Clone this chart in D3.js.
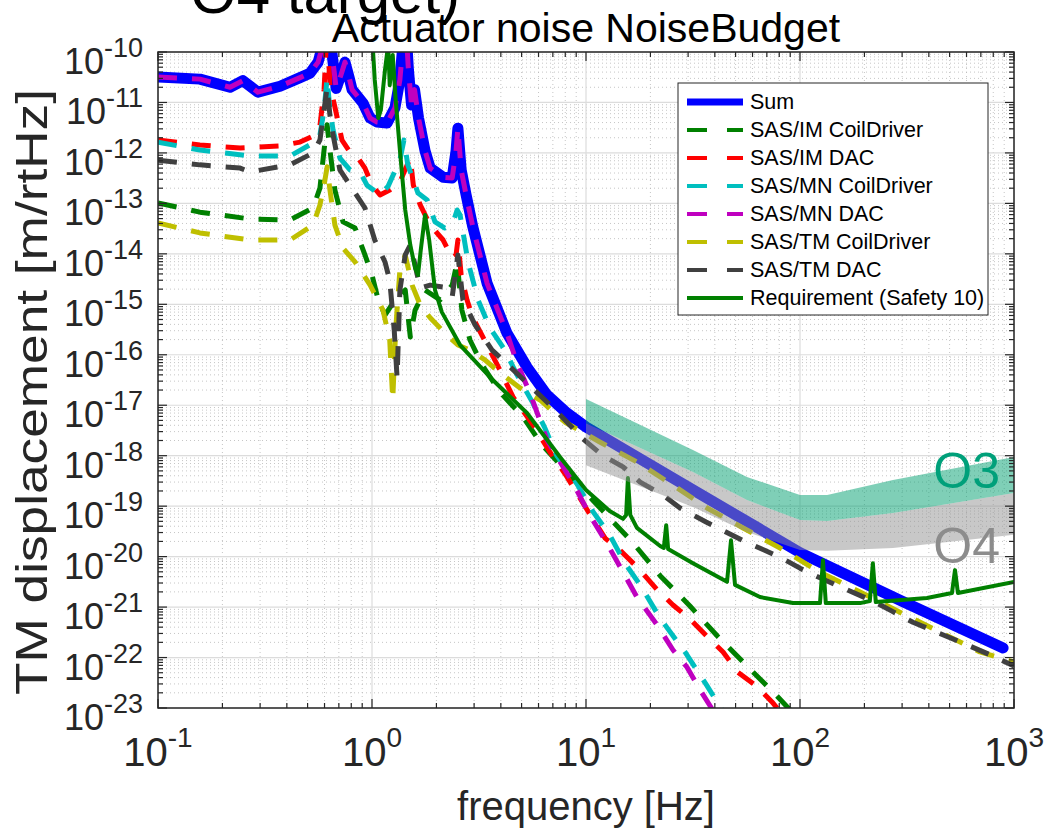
<!DOCTYPE html>
<html>
<head>
<meta charset="utf-8">
<script src="https://cdn.jsdelivr.net/npm/d3@7"></script>
<style>
  body { margin: 0; background: #fff; }
  svg { display: block; font-family: "Liberation Sans", Arial, Helvetica, sans-serif; }
</style>
</head>
<body>
<div id="chart"></div>
<script>
// ---- data (frequency in Hz, displacement in m/rtHz) ----
const freqSum = [0.1, 0.157, 0.217, 0.249, 0.293, 0.372, 0.461, 0.513, 0.56, 0.59, 0.617, 0.643, 0.68, 0.716, 0.748, 0.782, 0.807, 0.908, 0.98, 1.055, 1.175, 1.28, 1.35, 1.43, 1.48, 1.53, 1.58, 1.65, 1.77, 1.87, 2.15, 2.37, 2.47, 2.52, 2.61, 2.75, 2.96, 3.45, 4.27, 5.3, 6.57, 8.15, 10, 30, 100, 300, 889];
const valSum = [3.2e-11, 2.9e-11, 2.0e-11, 2.7e-11, 1.6e-11, 2.1e-11, 3.1e-11, 3.8e-11, 6.3e-11, 1.4e-10, 5e-10, 1.4e-10, 1.9e-11, 3.5e-11, 6.3e-11, 3.1e-11, 1.8e-11, 9.7e-12, 4.9e-12, 4.1e-12, 3.9e-12, 7.8e-12, 2.8e-11, 5e-10, 4.4e-11, 8.9e-12, 1.8e-11, 4.9e-12, 1.1e-12, 5.0e-13, 3.3e-13, 3.2e-13, 1.1e-12, 3.1e-12, 4.6e-13, 1.5e-13, 3.4e-14, 2.6e-15, 2.7e-16, 5.7e-17, 1.6e-17, 7.0e-18, 3.7e-18, 2.4e-19, 1.2e-20, 1.3e-21, 1.55e-22];

const freqImCoil = [0.1, 0.157, 0.269, 0.414, 0.53, 0.571, 0.597, 0.617, 0.636, 0.671, 0.732, 0.833, 0.927, 1.0, 1.07, 1.15, 1.28, 1.43, 1.51, 1.59, 1.77, 2.08, 2.37, 2.5, 2.63, 2.87, 3.27, 3.96, 5.08, 6.23, 10, 16.6, 22.2, 30.6, 41, 56.5, 76.4, 90];
const valImCoil = [1.02e-13, 6.7e-14, 4.9e-14, 4.7e-14, 8.1e-14, 2.0e-13, 1.14e-12, 3.6e-12, 1.14e-12, 1.84e-13, 4.3e-14, 3.25e-14, 9.5e-15, 3.8e-15, 1.22e-15, 6.1e-16, 1.22e-15, 1.92e-15, 2.25e-16, 7.7e-16, 1.92e-15, 1.22e-15, 2.4e-15, 6.9e-15, 7.7e-16, 1.96e-16, 6.3e-17, 1.83e-17, 5.8e-18, 1.63e-18, 1.82e-19, 1.86e-20, 4.2e-21, 1.05e-21, 2.7e-22, 6.8e-23, 1.9e-23, 9.1e-24];

const freqImDac = [0.1, 0.157, 0.242, 0.372, 0.461, 0.53, 0.571, 0.597, 0.617, 0.636, 0.671, 0.724, 0.789, 0.861, 0.927, 1.0, 1.09, 1.21, 1.35, 1.46, 1.51, 1.56, 1.68, 1.87, 2.15, 2.37, 2.47, 2.52, 2.61, 2.78, 2.96, 3.45, 3.96, 4.56, 5.65, 6.79, 8.15, 10, 12.3, 14.4, 17.9, 21.5, 25.5, 30.6, 36.8, 43.7, 51.3, 62.3, 74, 82.4];
const valImDac = [1.8e-12, 1.44e-12, 1.25e-12, 1.37e-12, 1.64e-12, 2.16e-12, 3.4e-12, 1.77e-11, 3e-10, 2.2e-11, 8.1e-12, 1.8e-12, 1.04e-12, 7.9e-13, 5.0e-13, 2.3e-13, 1.47e-13, 1.84e-13, 2.65e-13, 5.8e-13, 7.9e-13, 2.3e-13, 9.3e-14, 3.7e-14, 1.88e-14, 8.3e-15, 9.5e-15, 1.88e-14, 3.8e-15, 1.22e-15, 5.4e-16, 1.56e-16, 5.0e-17, 1.46e-17, 4.1e-18, 1.18e-18, 3.8e-19, 9.2e-20, 2.3e-20, 1.35e-20, 5.4e-21, 2.2e-21, 1.1e-21, 5.8e-22, 2.6e-22, 1.29e-22, 5.1e-23, 2.75e-23, 1.32e-23, 7.6e-24];

const freqMnCoil = [0.1, 0.157, 0.269, 0.414, 0.53, 0.571, 0.597, 0.617, 0.636, 0.658, 0.708, 0.789, 0.879, 0.947, 1.09, 1.19, 1.35, 1.41, 1.47, 1.64, 1.81, 1.97, 2.19, 2.37, 2.5, 2.58, 2.81, 3.13, 3.56, 4.18, 4.76, 5.65, 6.43, 7.32, 8.69, 10.8, 12.9, 15.2, 17.9, 22.2, 29, 36.8, 43.2];
const valMnCoil = [1.64e-12, 1.14e-12, 8.7e-13, 8.7e-13, 1.57e-12, 2.26e-12, 7.1e-12, 3.05e-11, 7.1e-12, 2.84e-12, 7.9e-13, 4.6e-13, 4.2e-13, 2.3e-13, 1.47e-13, 2.2e-13, 7.2e-13, 1.8e-12, 5.8e-13, 1.6e-13, 1.17e-13, 4.3e-14, 3.25e-14, 3.7e-14, 7.4e-14, 5.9e-14, 6.9e-15, 1.22e-15, 3.4e-16, 1.24e-16, 4.0e-17, 1.1e-17, 3.5e-18, 9.9e-19, 3.8e-19, 7.7e-20, 2.7e-20, 7.4e-21, 2.75e-21, 6.0e-22, 1.29e-22, 2.75e-23, 9.1e-24];

const freqMnDac = [0.1, 0.157, 0.217, 0.249, 0.293, 0.372, 0.461, 0.513, 0.56, 0.59, 0.617, 0.643, 0.68, 0.716, 0.748, 0.782, 0.807, 0.908, 0.98, 1.055, 1.175, 1.28, 1.35, 1.43, 1.48, 1.53, 1.58, 1.65, 1.77, 1.87, 2.15, 2.37, 2.47, 2.52, 2.61, 2.75, 2.96, 3.45, 4.27, 4.76, 5.47, 6.57, 7.32, 8.69, 10.4, 12.5, 17.3, 21.5, 25.5, 29.6, 34.8, 40.5];
const valMnDac = [3.2e-11, 2.9e-11, 2.0e-11, 2.7e-11, 1.6e-11, 2.1e-11, 3.1e-11, 3.8e-11, 6.3e-11, 1.4e-10, 5e-10, 1.4e-10, 1.9e-11, 3.5e-11, 6.3e-11, 3.1e-11, 1.8e-11, 9.7e-12, 4.9e-12, 4.1e-12, 3.9e-12, 7.8e-12, 2.8e-11, 5e-10, 4.4e-11, 8.9e-12, 1.8e-11, 4.9e-12, 1.1e-12, 5.0e-13, 3.3e-13, 3.2e-13, 1.1e-12, 3.1e-12, 4.6e-13, 1.5e-13, 3.4e-14, 2.6e-15, 2.7e-16, 6.9e-17, 1.75e-17, 2.05e-18, 9.4e-19, 2.9e-19, 6.7e-20, 1.86e-20, 1.58e-21, 4.4e-22, 1.41e-22, 6.5e-23, 2.0e-23, 7.2e-24];

const freqTmCoil = [0.1, 0.157, 0.269, 0.414, 0.53, 0.571, 0.597, 0.617, 0.636, 0.671, 0.732, 0.833, 0.98, 1.125, 1.21, 1.25, 1.29, 1.35, 1.43, 1.54, 1.68, 1.87, 2.19, 2.52, 2.87, 3.37, 3.96, 4.92, 6.1, 7.98, 11.6, 17.3, 25.5, 36.8, 54.2, 80.7, 124, 191, 293, 451, 693, 1000];
const valTmCoil = [4.1e-14, 2.6e-14, 1.88e-14, 1.88e-14, 3.7e-14, 9.3e-14, 2.3e-13, 5.3e-13, 1.84e-13, 3.7e-14, 1.3e-14, 6.9e-15, 2.4e-15, 7.7e-16, 1.96e-16, 1.27e-17, 3.1e-16, 4.8e-15, 9.5e-15, 2.4e-15, 9.7e-16, 5.4e-16, 2.7e-16, 1.56e-16, 1.24e-16, 7.9e-17, 4.4e-17, 2.2e-17, 1.27e-17, 4.6e-18, 1.87e-18, 7.5e-19, 2.6e-19, 9.2e-20, 3.7e-20, 1.48e-20, 4.9e-21, 2.0e-21, 7.9e-22, 3.2e-22, 1.29e-22, 8.1e-23];

const freqTmDac = [0.1, 0.157, 0.242, 0.269, 0.414, 0.53, 0.571, 0.597, 0.617, 0.636, 0.658, 0.708, 0.789, 0.927, 1.03, 1.15, 1.21, 1.27, 1.31, 1.35, 1.43, 1.51, 1.59, 1.68, 1.87, 2.15, 2.37, 2.52, 2.66, 3.03, 3.64, 4.32, 5.3, 6.57, 7.98, 9.58, 11.9, 14.9, 17.9, 22.9, 27.5, 36.4, 57.1, 67.9, 82.4, 100, 124, 166, 224, 269, 337, 560, 798, 1000];
const valTmDac = [7.2e-13, 5.8e-13, 5.0e-13, 4.2e-13, 5.8e-13, 9.95e-13, 1.8e-12, 7.1e-12, 2.0e-11, 5.6e-12, 2.26e-12, 4.6e-13, 2.3e-13, 8.1e-14, 1.88e-14, 6.9e-15, 3.0e-15, 3.1e-16, 3.5e-17, 1.92e-15, 9.5e-15, 1.5e-14, 6.0e-15, 2.1e-15, 2.4e-15, 2.2e-15, 1.4e-15, 9.5e-15, 1.22e-15, 3.9e-16, 1.24e-16, 6.3e-17, 2.75e-17, 1.16e-17, 5.1e-18, 2.24e-18, 1.03e-18, 6.0e-19, 3.0e-19, 1.66e-19, 9.2e-20, 4.85e-20, 1.86e-20, 1.35e-20, 9.3e-21, 5.9e-21, 3.8e-21, 2.2e-21, 1.26e-21, 8.3e-22, 5.0e-22, 2.04e-22, 1.07e-22, 6.8e-23];

const freqReq = [0.98, 1.03, 1.07, 1.1, 1.15, 1.19, 1.21, 1.25, 1.29, 1.35, 1.43, 1.51, 1.59, 1.64, 1.69, 1.77, 1.85, 1.97, 2.12, 2.58, 3.67, 5.3, 7.56, 10, 12.9, 14.9, 15.4, 15.7, 16.1, 17.3, 22.2, 23.1, 23.7, 24.2, 31.6, 45.6, 47.6, 49.7, 65, 92.7, 124, 128, 132, 191, 212, 219, 226, 392, 513, 530, 547, 1000];
const valReq = [1e-9, 2.8e-11, 4.9e-12, 7.1e-12, 4.4e-11, 1.4e-10, 2.2e-11, 8.7e-11, 1.12e-11, 1.14e-12, 7.4e-14, 1.5e-14, 5.2e-15, 3.8e-15, 1.19e-14, 5.9e-14, 1.88e-14, 1.92e-15, 7.0e-16, 1.56e-16, 3.16e-17, 7.0e-18, 9.4e-19, 2.1e-19, 8.0e-20, 5.6e-20, 6.7e-20, 3.6e-19, 6.7e-20, 3.7e-20, 1.62e-20, 1.48e-20, 4.2e-20, 1.41e-20, 7.4e-21, 3.16e-21, 2.1e-20, 2.75e-21, 1.58e-21, 1.2e-21, 1.2e-21, 8.5e-21, 1.2e-21, 1.2e-21, 1.32e-21, 7.4e-21, 1.26e-21, 1.51e-21, 1.9e-21, 5.4e-21, 1.9e-21, 3.16e-21];

// sensitivity bands
const bandFreq = [10, 31.6, 56.5, 100, 134, 272, 1000];
const o3Upper = [1.33e-17, 1.3e-18, 3.8e-19, 1.66e-19, 1.66e-19, 3.3e-19, 9.4e-19];
const o3Lower = [4.4e-18, 4.75e-19, 1.32e-19, 5.3e-20, 5.1e-20, 7.3e-20, 1.82e-19];
const o4Upper = [4.4e-18, 4.75e-19, 1.32e-19, 5.3e-20, 5.1e-20, 7.3e-20, 1.82e-19];
const o4Lower = [6.5e-19, 9.6e-20, 3.08e-20, 1.35e-20, 1.3e-20, 1.48e-20, 2.7e-20];

const xTicks = [0.1, 1, 10, 100, 1000];
const xTickExp = ["-1", "0", "1", "2", "3"];
const yTickExp = d3.range(-23, -9);

// ---- layout ----
const W = 1045, H = 833;
const L = 158, R = 1014, T = 52, B = 708;
const axisColor = "#262626";
const dashPattern = "19,15";

const svg = d3.select("#chart").append("svg")
  .attr("width", W)
  .attr("height", H);

const x = d3.scaleLog().domain([0.1, 1000]).range([L, R]);
const y = d3.scaleLog().domain([1e-23, 1e-10]).range([B, T]);

svg.append("rect").attr("x", L).attr("y", T).attr("width", R - L).attr("height", B - T).attr("fill", "#fff");

svg.append("clipPath").attr("id", "plot-clip")
  .append("rect").attr("x", L).attr("y", T).attr("width", R - L).attr("height", B - T);

// grid
const xMinor = [];
[-1, 0, 1, 2].forEach(e => { for (let k = 2; k <= 9; k++) xMinor.push(k * Math.pow(10, e)); });
const yMinor = [];
d3.range(-23, -10).forEach(e => { for (let k = 2; k <= 9; k++) yMinor.push(k * Number("1e" + e)); });
const yMajor = yTickExp.map(e => Number("1e" + e));

const grid = svg.append("g");
grid.selectAll(".xminor").data(xMinor).enter().append("line")
  .attr("x1", d => x(d)).attr("x2", d => x(d)).attr("y1", T).attr("y2", B)
  .attr("stroke", "#b8b8b8").attr("stroke-width", 0.8).attr("stroke-dasharray", "1,3");
grid.selectAll(".yminor").data(yMinor).enter().append("line")
  .attr("y1", d => y(d)).attr("y2", d => y(d)).attr("x1", L).attr("x2", R)
  .attr("stroke", "#b8b8b8").attr("stroke-width", 0.8).attr("stroke-dasharray", "1,3");
grid.selectAll(".xmajor").data(xTicks).enter().append("line")
  .attr("x1", d => x(d)).attr("x2", d => x(d)).attr("y1", T).attr("y2", B)
  .attr("stroke", "#dcdcdc").attr("stroke-width", 1.2);
grid.selectAll(".ymajor").data(yMajor).enter().append("line")
  .attr("y1", d => y(d)).attr("y2", d => y(d)).attr("x1", L).attr("x2", R)
  .attr("stroke", "#dcdcdc").attr("stroke-width", 1.2);

// curves
const series = [
  { name: "Sum", f: freqSum, v: valSum, color: "#0000ff", width: 11, dash: null },
  { name: "SAS/IM CoilDriver", f: freqImCoil, v: valImCoil, color: "#008000", width: 5, dash: dashPattern },
  { name: "SAS/IM DAC", f: freqImDac, v: valImDac, color: "#ff0000", width: 5, dash: dashPattern },
  { name: "SAS/MN CoilDriver", f: freqMnCoil, v: valMnCoil, color: "#00bfbf", width: 5, dash: dashPattern },
  { name: "SAS/MN DAC", f: freqMnDac, v: valMnDac, color: "#bf00bf", width: 5, dash: dashPattern },
  { name: "SAS/TM CoilDriver", f: freqTmCoil, v: valTmCoil, color: "#bfbf00", width: 5, dash: dashPattern },
  { name: "SAS/TM DAC", f: freqTmDac, v: valTmDac, color: "#404040", width: 5, dash: dashPattern },
  { name: "Requirement (Safety 10)", f: freqReq, v: valReq, color: "#008000", width: 4, dash: null }
];

const line = d3.line()
  .x(d => x(d[0]))
  .y(d => y(d[1]));

const plot = svg.append("g").attr("clip-path", "url(#plot-clip)");

series.forEach(s => {
  plot.append("path")
    .datum(s.f.map((f, i) => [f, s.v[i]]))
    .attr("fill", "none")
    .attr("stroke", s.color)
    .attr("stroke-width", s.width)
    .attr("stroke-linejoin", "round")
    .attr("stroke-linecap", s.dash ? "butt" : "round")
    .attr("stroke-dasharray", s.dash)
    .attr("d", line);
});

// bands on top, semi transparent
const area = d3.area()
  .x(d => x(d.f))
  .y0(d => y(d.lo))
  .y1(d => y(d.hi));

plot.append("path")
  .datum(bandFreq.map((f, i) => ({ f: f, lo: o4Lower[i], hi: o4Upper[i] })))
  .attr("fill", "#919191").attr("fill-opacity", 0.5)
  .attr("d", area);
plot.append("path")
  .datum(bandFreq.map((f, i) => ({ f: f, lo: o3Lower[i], hi: o3Upper[i] })))
  .attr("fill", "#00a070").attr("fill-opacity", 0.5)
  .attr("d", area);

// axes box and ticks
const axes = svg.append("g");
axes.append("rect").attr("x", L).attr("y", T).attr("width", R - L).attr("height", B - T)
  .attr("fill", "none").attr("stroke", axisColor).attr("stroke-width", 1.5);

function tickLines(values, len, horizontal) {
  values.forEach(v => {
    if (horizontal) {
      const px = x(v);
      axes.append("line").attr("x1", px).attr("x2", px).attr("y1", B).attr("y2", B - len).attr("stroke", axisColor).attr("stroke-width", 1.2);
      axes.append("line").attr("x1", px).attr("x2", px).attr("y1", T).attr("y2", T + len).attr("stroke", axisColor).attr("stroke-width", 1.2);
    } else {
      const py = y(v);
      axes.append("line").attr("y1", py).attr("y2", py).attr("x1", L).attr("x2", L + len).attr("stroke", axisColor).attr("stroke-width", 1.2);
      axes.append("line").attr("y1", py).attr("y2", py).attr("x1", R).attr("x2", R - len).attr("stroke", axisColor).attr("stroke-width", 1.2);
    }
  });
}
tickLines(xTicks, 9, true);
tickLines(xMinor, 5, true);
tickLines(yMajor, 9, false);
tickLines(yMinor, 5, false);

// tick labels
xTicks.forEach((t, i) => {
  const tx = axes.append("text")
    .attr("x", x(t)).attr("y", 766)
    .attr("text-anchor", "middle")
    .attr("fill", axisColor)
    .attr("font-size", 40);
  tx.append("tspan").text("10");
  tx.append("tspan").attr("font-size", 28).attr("dy", -19).text(xTickExp[i]);
});

yTickExp.forEach(e => {
  const ty = axes.append("text")
    .attr("x", 143).attr("y", y(Number("1e" + e)) + 22)
    .attr("text-anchor", "end")
    .attr("fill", axisColor)
    .attr("font-size", 36);
  ty.append("tspan").text("10");
  ty.append("tspan").attr("font-size", 27).attr("dy", -17).text(String(e));
});

// axis labels and titles
svg.append("text")
  .attr("x", 586).attr("y", 820)
  .attr("text-anchor", "middle")
  .attr("fill", axisColor)
  .attr("font-size", 40)
  .text("frequency [Hz]");

svg.append("text")
  .attr("transform", "translate(47,392) rotate(-90)")
  .attr("text-anchor", "middle")
  .attr("fill", axisColor)
  .attr("font-size", 45)
  .attr("textLength", 606)
  .attr("lengthAdjust", "spacingAndGlyphs")
  .text("TM displacement [m/rtHz]");

svg.append("text")
  .attr("x", 586).attr("y", 42)
  .attr("text-anchor", "middle")
  .attr("fill", "#000")
  .attr("font-size", 41)
  .text("Actuator noise NoiseBudget");

svg.append("text")
  .attr("x", 190).attr("y", 13)
  .attr("fill", "#000")
  .attr("font-size", 60)
  .text("O4 target)");

// band labels
svg.append("text")
  .attr("x", 1000).attr("y", 488)
  .attr("text-anchor", "end")
  .attr("fill", "#00a07a")
  .attr("font-size", 50)
  .text("O3");
svg.append("text")
  .attr("x", 1000).attr("y", 563)
  .attr("text-anchor", "end")
  .attr("fill", "#8c8c8c")
  .attr("font-size", 50)
  .text("O4");

// legend
const legend = svg.append("g");
legend.append("rect")
  .attr("x", 678).attr("y", 83).attr("width", 310).attr("height", 232)
  .attr("fill", "#fff").attr("stroke", axisColor).attr("stroke-width", 1);

series.forEach((s, i) => {
  const ly = 102 + i * 28;
  legend.append("line")
    .attr("x1", 687).attr("x2", 743).attr("y1", ly).attr("y2", ly)
    .attr("stroke", s.color)
    .attr("stroke-width", s.name === "Sum" ? 7 : 4)
    .attr("stroke-dasharray", s.dash ? "20,20" : null);
  legend.append("text")
    .attr("x", 750).attr("y", ly + 7)
    .attr("fill", "#000")
    .attr("font-size", 21.5)
    .text(s.name);
});
</script>
</body>
</html>
